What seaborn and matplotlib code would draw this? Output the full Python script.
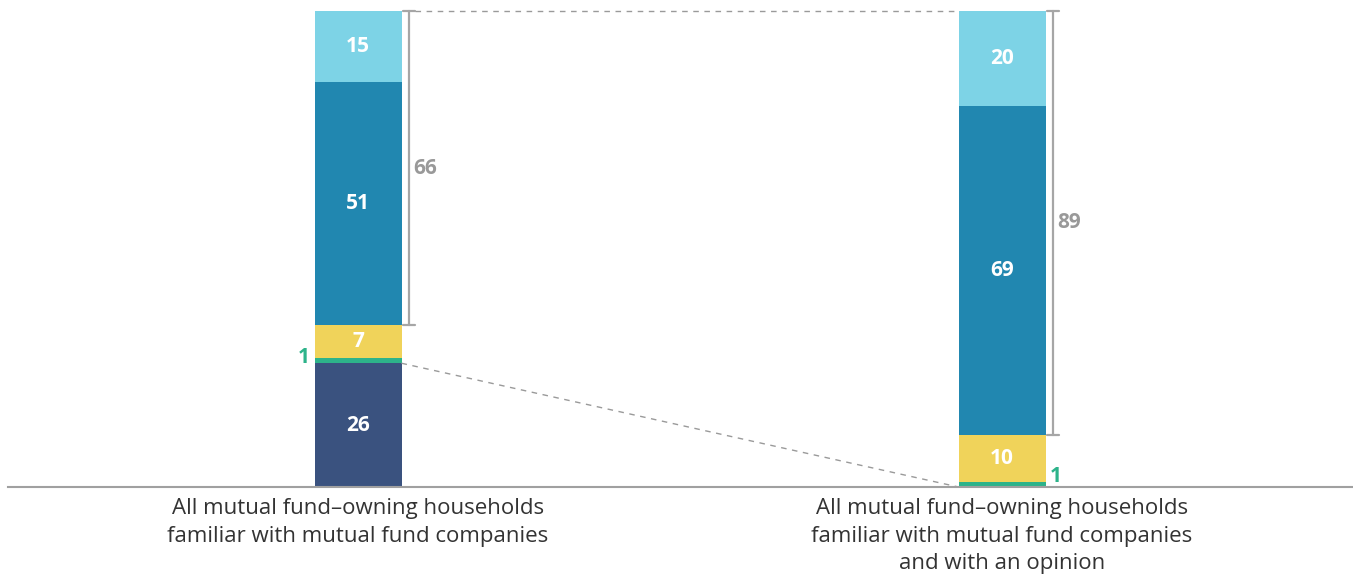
import matplotlib
matplotlib.use("Agg")
import matplotlib.pyplot as plt
import seaborn as sns
import pandas as pd
import numpy as np

categories = ["All mutual fund\u2013owning households\nfamiliar with mutual fund companies",
              "All mutual fund\u2013owning households\nfamiliar with mutual fund companies\nand with an opinion"]
navy_vals = [26, 0]
green_vals = [1, 1]
yellow_vals = [7, 10]
blue_vals = [51, 69]
light_vals = [15, 20]
bracket_vals = [66, 89]

seg_colors = ["#3A527F", "#2DB38A", "#F0D35A", "#2187B0", "#7DD3E6"]
layers = [navy_vals, green_vals, yellow_vals, blue_vals, light_vals]

sns.set_theme(style="white")
plt.rcParams['font.family'] = ['Open Sans', 'DejaVu Sans']

W, H = 1353, 574
fig = plt.figure(figsize=(W / 100, H / 100), dpi=100)
ax_left_px, base_px, top_px = 8, 487, 11
ax = fig.add_axes([ax_left_px / W, (H - base_px) / H, 1 - ax_left_px / W, (base_px - top_px) / H])

# cumulative stacks drawn from the top layer down
cum = np.cumsum(np.array(layers), axis=0)
bar_w = 87 / 644
for i in range(len(layers) - 1, -1, -1):
    d = pd.DataFrame({"cat": categories, "val": cum[i]})
    sns.barplot(data=d, x="cat", y="val", color=seg_colors[i], width=bar_w,
                saturation=1, ax=ax, order=categories, linewidth=0, edgecolor="none")

px = 1 / 644  # data units per pixel in x
ax.set_xlim((ax_left_px - 358) * px, (W - 358) * px)
ax.set_ylim(0, 100)

# segment value labels
for j in range(len(categories)):
    bottom = 0
    for i, vals in enumerate(layers):
        v = vals[j]
        if v >= 5:
            ax.text(j, bottom + v / 2, f"{v}", ha="center", va="center", color="white",
                    fontsize=15, fontweight="bold")
        bottom += v

# green "1" labels outside the bars
ax.text(0 - bar_w / 2 - 5 * px, navy_vals[0] + green_vals[0] / 2 + 0.8, f"{green_vals[0]}",
        ha="right", va="center", color="#2DB38A", fontsize=15, fontweight="bold")
ax.text(1 + bar_w / 2 + 4 * px, 0, f"{green_vals[1]}",
        ha="left", va="bottom", color="#2DB38A", fontsize=15, fontweight="bold")

# brackets
gray = "#A6A6A6"
for j, b in enumerate(bracket_vals):
    xb = j + bar_w / 2 + 7 * px
    ax.plot([xb, xb], [100, 100 - b], color=gray, lw=1.6, clip_on=False)
    for yy in (100, 100 - b):
        ax.plot([xb - 6 * px, xb + 6 * px], [yy, yy], color=gray, lw=1.6, clip_on=False)
    ax.text(xb + 5 * px, 100 - b / 2, f"{b}", ha="left", va="center", color="#999999",
            fontsize=15, fontweight="bold")

# dashed connector lines
ax.plot([0 + bar_w / 2 + 13 * px, 1 - bar_w / 2], [100, 100], color="#9A9A9A", lw=1,
        ls=(0, (4, 4)), clip_on=False)
ax.plot([0 + bar_w / 2, 1 - bar_w / 2], [navy_vals[0], 0], color="#9A9A9A", lw=1,
        ls=(0, (4, 4)), clip_on=False)

# axes styling
for s in ["top", "left", "right"]:
    ax.spines[s].set_visible(False)
ax.spines["bottom"].set_color("#A0A0A0")
ax.spines["bottom"].set_linewidth(1.5)
ax.set_yticks([])
ax.set_xlabel("")
ax.set_ylabel("")
ax.tick_params(axis="x", length=0, pad=8)
ax.set_xticks([0, 1])
ax.set_xticklabels(categories, fontsize=16, color="#333333", linespacing=1.4)

fig.savefig("out.png", dpi=100)
